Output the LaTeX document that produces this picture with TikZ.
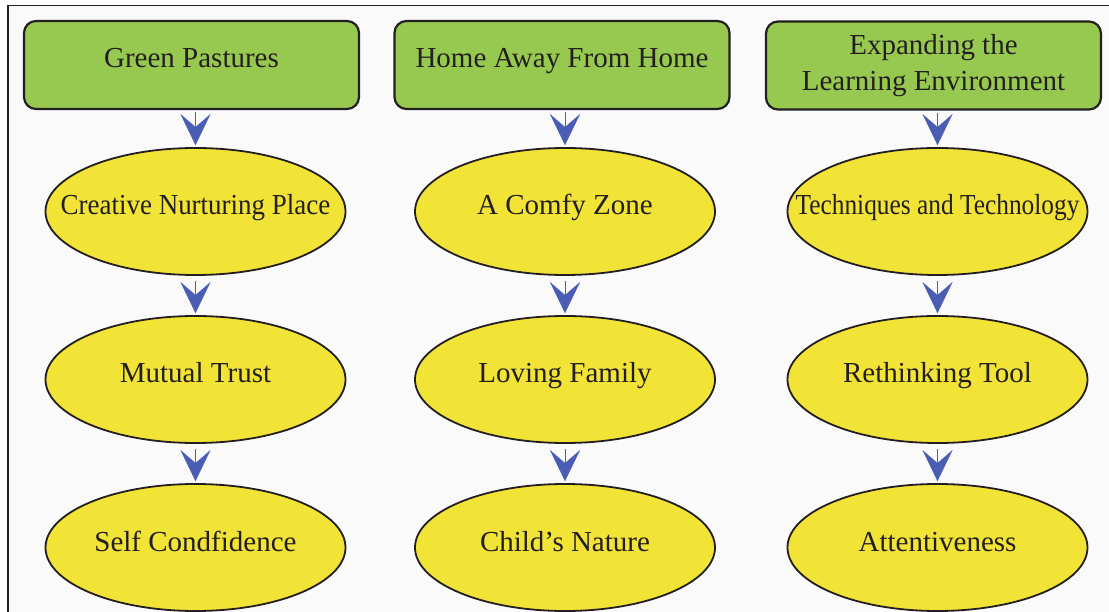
\documentclass[tikz,border=0pt]{standalone}
\usepackage{fontspec}
\setmainfont{Liberation Serif}
\usetikzlibrary{shapes.geometric,arrows.meta}
\definecolor{boxgreen}{HTML}{97C950}
\definecolor{ideayellow}{HTML}{F2E337}
\definecolor{arrowblue}{HTML}{4A5CB3}
\definecolor{ink}{HTML}{231F20}
\definecolor{panel}{HTML}{FAFAFA}
% text that does not widen its ellipse, optionally squeezed horizontally
\newcommand\squeeze[2]{\makebox[0pt]{\scalebox{#1}[1]{#2}}}
\begin{document}
\begin{tikzpicture}[x=1pt,y=-1pt,
  topic/.style={draw=ink, line width=2.2pt, fill=boxgreen, rounded corners=12pt,
    minimum width=335pt, minimum height=88pt, inner sep=0pt, text=ink,
    font=\fontsize{29}{36}\selectfont, align=center},
  single/.style={text height=18pt, text depth=12pt},
  idea/.style={ellipse, draw=ink, line width=1.8pt, fill=ideayellow,
    minimum width=300pt, minimum height=127pt, inner sep=0pt, text=ink,
    font=\fontsize{29}{36}\selectfont, text height=18pt, text depth=11pt},
  flow/.style={draw=arrowblue, line width=0.1pt,
    -{Stealth[length=31pt,width=30pt,inset=13pt,fill=arrowblue]}, shorten >=2pt}
]
\useasboundingbox (0,0) rectangle (1109,612);
\fill[white] (0,0) rectangle (1109,612);
\begin{scope}
  \clip (0,0) rectangle (1109,612);
  \draw[ink, line width=1.8pt, fill=panel] (8,5.5) rectangle (1140,650);
\end{scope}

% column headers
\node[topic, single] (gp)  at (191.5,65) {Green Pastures};
\node[topic, single] (home) at (562,65) {Home Away From Home};
\node[topic] (exp) at (933.5,65.5) {Expanding the\\Learning Environment};

% first column
\node[idea] (a1) at (195.5,211.5) {\squeeze{0.93}{Creative Nurturing Place}};
\node[idea] (a2) at (195.5,379.5) {\squeeze{1}{Mutual Trust}};
\node[idea] (a3) at (195.5,547.5) {\squeeze{1}{Self Condfidence}};

% second column
\node[idea] (b1) at (565,211.5) {\squeeze{1}{A Comfy Zone}};
\node[idea] (b2) at (565,379.5) {\squeeze{1}{Loving Family}};
\node[idea] (b3) at (565,547.5) {\squeeze{1}{Child’s Nature}};

% third column
\node[idea] (c1) at (937.5,211.5) {\squeeze{0.875}{Techniques and Technology}};
\node[idea] (c2) at (937.5,379.5) {\squeeze{1}{Rethinking Tool}};
\node[idea] (c3) at (937.5,547.5) {\squeeze{1}{Attentiveness}};

% arrows
\draw[flow, shorten <=2pt] (gp.south -| a1.north) -- (a1.north);
\draw[flow, shorten <=5pt] (a1) -- (a2);
\draw[flow, shorten <=5pt] (a2) -- (a3);
\draw[flow, shorten <=2pt] (home.south -| b1.north) -- (b1.north);
\draw[flow, shorten <=5pt] (b1) -- (b2);
\draw[flow, shorten <=5pt] (b2) -- (b3);
\draw[flow, shorten <=2pt] (exp.south -| c1.north) -- (c1.north);
\draw[flow, shorten <=5pt] (c1) -- (c2);
\draw[flow, shorten <=5pt] (c2) -- (c3);
\end{tikzpicture}
\end{document}
